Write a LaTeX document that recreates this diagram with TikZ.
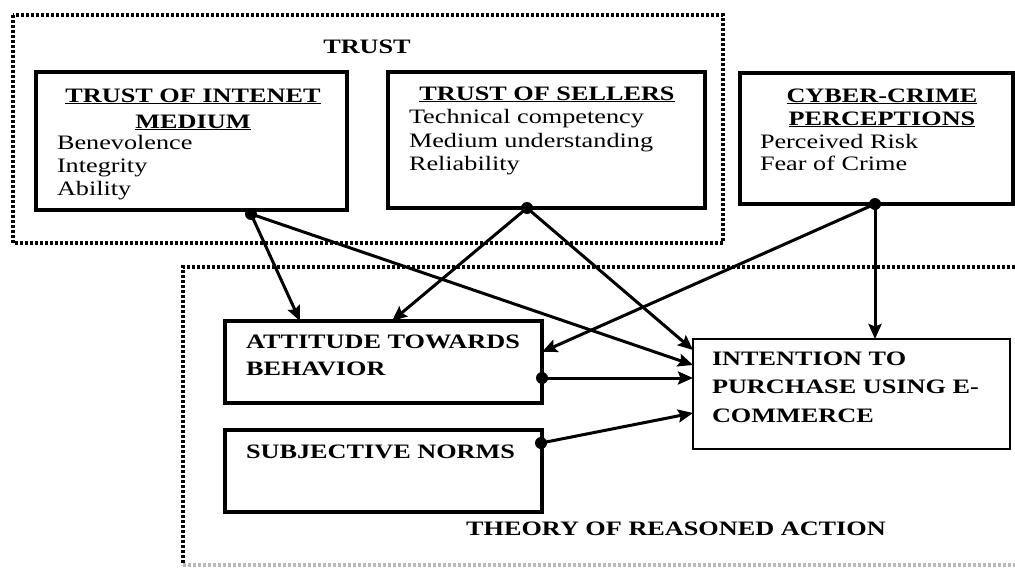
\documentclass[tikz,border=0pt]{standalone}
\usepackage{fontspec}
\setmainfont[FakeStretch=1.28]{Liberation Serif}
\usetikzlibrary{arrows.meta,calc}
\begin{document}
\begin{tikzpicture}[x=1pt,y=-1pt,
  box/.style={draw,line width=3.2pt,inner sep=0pt,outer sep=0pt},
  thinbox/.style={draw,line width=2pt,inner sep=0pt,outer sep=0pt},
  txt/.style={inner sep=0pt,outer sep=0pt,font=\fontsize{20.5}{24}\selectfont},
  ttl/.style={inner sep=0pt,outer sep=0pt,font=\fontsize{20.5}{24}\selectfont\bfseries},
  arr/.style={line width=3pt,-{Stealth[length=15pt,width=13pt,inset=2.5pt]}},
  dotnode/.style={circle,fill=black,inner sep=0pt,minimum size=12pt},
  dbox/.style={line width=3.2pt,dash pattern=on 2.6pt off 2.4pt}]
\useasboundingbox (0,0) rectangle (1015,570);
\fill[white] (0,0) rectangle (1015,570);

% dotted group frames
\draw[dbox] (13,15) rectangle (723,243);
\draw[dbox] (1030,267) -- (183,267) -- (183,565);
\draw[dbox,gray!55] (183,565) -- (1030,565);
\node[ttl,anchor=base] (trustlbl) at (367,53) {TRUST};
\node[ttl,anchor=base] (tralbl) at (676,535) {THEORY OF REASONED ACTION};

% boxes
\node[box,minimum width=311pt,minimum height=138pt] (b1) at (191.5,141) {};
\node[box,minimum width=317pt,minimum height=136pt] (b2) at (546.5,140) {};
\node[box,minimum width=273pt,minimum height=131pt] (b3) at (876.5,138.5) {};
\node[box,minimum width=317pt,minimum height=82pt] (atb) at (383.5,362) {};
\node[box,minimum width=317pt,minimum height=82pt] (sn) at (383.5,471) {};
\node[thinbox,minimum width=317pt,minimum height=110pt] (int) at (851.5,394) {};

% box 1 text
\node[ttl,anchor=base] (b1t1) at (193,102) {\underline{TRUST OF INTENET}};
\node[ttl,anchor=base] (b1t2) at (193,128) {\underline{MEDIUM}};
\node[txt,anchor=base west] (b1i1) at (57,149) {Benevolence};
\node[txt,anchor=base west] (b1i2) at (57,172) {Integrity};
\node[txt,anchor=base west] (b1i3) at (57,195) {Ability};

% box 2 text
\node[ttl,anchor=base] (b2t1) at (547,100) {\underline{TRUST OF SELLERS}};
\node[txt,anchor=base west] (b2i1) at (409,123) {Technical competency};
\node[txt,anchor=base west] (b2i2) at (409,147) {Medium understanding};
\node[txt,anchor=base west] (b2i3) at (409,170) {Reliability};

% box 3 text
\node[ttl,anchor=base] (b3t1) at (882,102) {\underline{CYBER-CRIME}};
\node[ttl,anchor=base] (b3t2) at (882,125) {\underline{PERCEPTIONS}};
\node[txt,anchor=base west] (b3i1) at (760,148) {Perceived Risk};
\node[txt,anchor=base west] (b3i2) at (760,170) {Fear of Crime};

% lower boxes text
\node[ttl,anchor=base west] (atbt1) at (246,348) {ATTITUDE TOWARDS};
\node[ttl,anchor=base west] (atbt2) at (246,375) {BEHAVIOR};
\node[ttl,anchor=base west] (snt1) at (246,458) {SUBJECTIVE NORMS};
\node[ttl,anchor=base west] (intt1) at (712,365) {INTENTION TO};
\node[ttl,anchor=base west] (intt2) at (712,393) {PURCHASE USING E-};
\node[ttl,anchor=base west] (intt3) at (712,422) {COMMERCE};

% dots
\node[dotnode] (p1) at (251,214) {};
\node[dotnode] (p2) at (527,208) {};
\node[dotnode] (p3) at (875,204) {};
\node[dotnode] (p4) at (542,378) {};
\node[dotnode] (p5) at (541,443) {};

% connectors
\draw[arr] (p1.center) -- ($(atb.north west)+(75,0)$);
\draw[arr] (p1.center) -- ($(int.north west)+(0,26)$);
\draw[arr] (p2.center) -- ($(atb.north west)+(167,0)$);
\draw[arr] (p2.center) -- ($(int.north west)+(0,11)$);
\draw[arr] (p3.center) -- ($(atb.north east)+(0,31)$);
\draw[arr] (p3.center) -- ($(int.north west)+(182,0)$);
\draw[arr] (p4.center) -- ($(int.north west)+(0,39)$);
\draw[arr] (p5.center) -- ($(int.north west)+(0,74)$);
\end{tikzpicture}
\end{document}
